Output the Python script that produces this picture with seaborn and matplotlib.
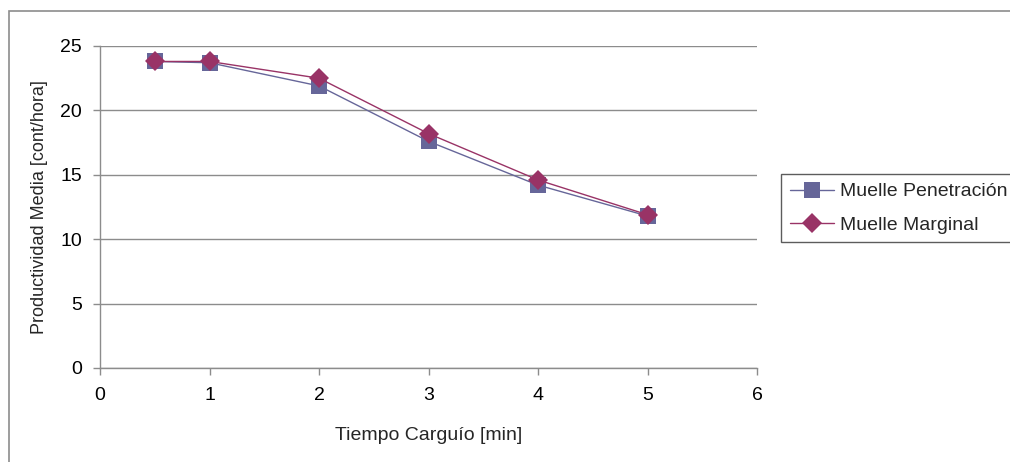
import numpy as np
import pandas as pd
import matplotlib
matplotlib.use("Agg")
import matplotlib.pyplot as plt
import seaborn as sns
from matplotlib.patches import Rectangle

# Datos
tiempo_carguio = [0.5, 1, 2, 3, 4, 5]
muelle_penetracion = [23.8, 23.7, 21.9, 17.6, 14.2, 11.8]
muelle_marginal = [23.8, 23.8, 22.5, 18.2, 14.6, 11.9]
series_names = ["Muelle Penetración", "Muelle Marginal"]

df = pd.DataFrame({
    "tiempo": tiempo_carguio * 2,
    "prod": muelle_penetracion + muelle_marginal,
    "serie": [series_names[0]] * len(tiempo_carguio) + [series_names[1]] * len(tiempo_carguio),
})

sns.set_theme(style="white")
plt.rcParams["font.family"] = ["Liberation Sans", "DejaVu Sans"]

W, H = 1010, 462
fig = plt.figure(figsize=(W / 100, H / 100), dpi=100)
ax = fig.add_axes([100 / W, 1 - 368 / H, (757 - 100) / W, (368 - 46) / H])

# Marco exterior del grafico
fig.patches.append(Rectangle((9 / W, -0.05), 1.1, 1 - 11 / H + 0.05, transform=fig.transFigure,
                             fill=False, edgecolor="#8c8c8c", linewidth=1.2, zorder=0))

palette = {series_names[0]: "#666699", series_names[1]: "#993366"}
markers = {series_names[0]: "s", series_names[1]: "D"}
sizes = {series_names[0]: 11, series_names[1]: 10}
for name in series_names:
    sub = df[df["serie"] == name]
    sns.lineplot(data=sub, x="tiempo", y="prod", ax=ax, color=palette[name], marker=markers[name],
                 markersize=sizes[name], markeredgewidth=0, linewidth=1.0, label=name, legend=False)

ax.set_xlim(0, 6)
ax.set_ylim(0, 25)
ax.set_xticks(range(0, 7))
ax.set_yticks(range(0, 26, 5))
ax.yaxis.grid(True, color="#8c8c8c", linewidth=1.0)
ax.set_axisbelow(True)
for s in ["top", "right"]:
    ax.spines[s].set_visible(False)
for s in ["left", "bottom"]:
    ax.spines[s].set_color("#8c8c8c")
    ax.spines[s].set_linewidth(1.0)
ax.tick_params(axis="both", which="both", direction="out", length=5, width=1, color="#8c8c8c",
               labelsize=14, labelcolor="black", bottom=True, left=True, pad=8)
ax.tick_params(axis="x", pad=9)
ax.set_xlabel("Tiempo Carguío [min]", fontsize=14, labelpad=16)
ax.set_ylabel("Productividad Media [cont/hora]", fontsize=13, labelpad=9)

handles, labels = ax.get_legend_handles_labels()
leg = fig.legend(handles, labels, loc="upper left", bbox_to_anchor=(781 / W, 1 - 174 / H),
                 frameon=True, fancybox=False, fontsize=14, handlelength=2.3, borderpad=0.45,
                 labelspacing=0.8, handletextpad=0.26, borderaxespad=0)
leg.get_frame().set_edgecolor("#333333")
leg.get_frame().set_linewidth(1.0)

fig.savefig("out.png", dpi=100, facecolor="white")
